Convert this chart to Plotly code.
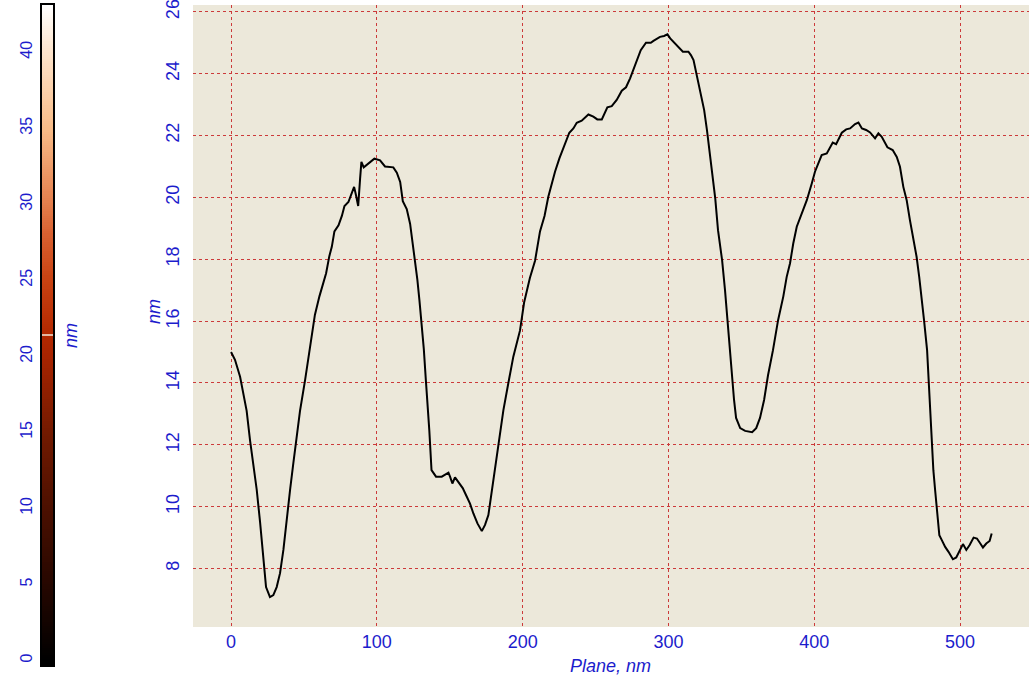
import numpy as np
import plotly.graph_objects as go

# Height profile along the scan line
plane_nm = [0, 2.7, 6.2, 9.1, 10.7, 13.0, 15.8, 17.6, 19.9, 21.7, 24.0, 26.7, 29.0, 31.3, 33.6,
            35.9, 38.2, 40.5, 42.7, 45.0, 47.3, 50.8, 53.5, 55.3, 57.5, 60.6, 63.3, 65.2, 67.4,
            69.1, 70.9, 73.7, 76.0, 77.8, 80.5, 82.1, 84.4, 85.7, 87.2, 88.5, 89.4, 91.0, 94.2,
            98.3, 102.2, 105.6, 111.3, 113.7, 116.0, 117.8, 120.5, 122.8, 124.6, 126.2, 127.8,
            129.2, 130.8, 132.2, 133.6, 134.8, 136.0, 137.5, 140.6, 144.5, 146.8, 149.1, 150.2,
            151.8, 153.6, 155.9, 158.9, 161.7, 163.9, 166.2, 169.0, 172.0, 174.2, 176.5, 178.3,
            180.4, 183.3, 186.8, 190.2, 193.6, 198.2, 201.0, 205.0, 208.5, 211.9, 215.0, 217.6,
            220.0, 222.2, 225.2, 227.9, 230.2, 232.0, 234.8, 237.1, 240.5, 245.1, 248.5, 251.2,
            254.3, 255.8, 258.1, 261.1, 264.5, 268.0, 270.9, 273.7, 276.0, 278.3, 281.0, 284.6,
            287.9, 289.7, 292.0, 294.2, 297.0, 299.3, 301.2, 305.8, 309.9, 313.7, 315.4, 317.2,
            319.1, 320.6, 322.9, 324.5, 326.4, 328.2, 329.8, 332.1, 334.0, 336.8, 338.8, 340.9,
            342.9, 345.0, 346.4, 349.2, 352.6, 357.4, 360.2, 362.8, 365.6, 368.3, 371.7, 375.2,
            378.8, 381.1, 383.4, 385.6, 388.0, 391.4, 394.9, 398.3, 400.5, 402.8, 405.1, 408.6,
            412.7, 415.0, 416.6, 418.9, 421.9, 424.6, 428.0, 430.3, 432.7, 435.6, 438.3, 441.7,
            444.0, 446.3, 450.2, 453.8, 456.6, 458.8, 461.1, 463.4, 465.6, 467.9, 470.2, 472.0,
            473.7, 475.3, 477.4, 478.5, 480.3, 481.7, 482.9, 484.0, 484.7, 485.8, 487.5, 489.8,
            492.1, 495.1, 497.4, 499.7, 502.0, 504.3, 506.6, 509.3, 511.6, 513.9, 515.7, 518.0,
            520.3, 521.7]
height_nm = [15.0, 14.75, 14.2, 13.55, 13.1, 12.15, 11.2, 10.55, 9.5, 8.6, 7.4, 7.08, 7.14, 7.4, 7.85,
             8.6, 9.65, 10.55, 11.4, 12.25, 13.1, 14.1, 14.9, 15.4, 16.2, 16.8, 17.2, 17.55, 18.1,
             18.4, 18.9, 19.1, 19.4, 19.72, 19.85, 20.07, 20.34, 20.07, 19.72, 20.6, 21.15, 20.97, 21.08,
             21.25, 21.2, 21.0, 20.97, 20.8, 20.5, 19.88, 19.62, 19.15, 18.5, 17.97, 17.33,
             16.68, 15.93, 15.1, 14.1, 13.4, 12.45, 11.18, 10.97, 10.97, 11.05, 11.1, 10.97,
             10.75, 10.95, 10.8, 10.6, 10.32, 10.1, 9.78, 9.46, 9.21, 9.41, 9.73, 10.32,
             11.08, 11.94, 13.12, 14.0, 14.85, 15.7, 16.6, 17.4, 17.95, 18.9, 19.4, 20.02,
             20.45, 20.83, 21.26, 21.58, 21.85, 22.09, 22.23, 22.41, 22.48, 22.68, 22.61, 22.52,
             22.52, 22.66, 22.91, 22.95, 23.15, 23.45, 23.56, 23.85, 24.12, 24.45, 24.76, 25.0,
             25.0, 25.06, 25.13, 25.19, 25.22, 25.27, 25.14, 24.92, 24.71, 24.71, 24.6, 24.44,
             24.01, 23.69, 23.25, 22.82, 22.18, 21.53, 20.88, 19.97, 18.94, 17.97, 17.0, 15.71,
             14.58, 13.45, 12.87, 12.54, 12.45, 12.41, 12.54, 12.87, 13.45, 14.25, 15.06, 16.03,
             16.8, 17.43, 17.87, 18.51, 19.05, 19.48, 19.91, 20.45, 20.83, 21.1, 21.37, 21.42,
             21.77, 21.72, 21.88, 22.09, 22.2, 22.23, 22.37, 22.42, 22.23, 22.18, 22.1, 21.91,
             22.07, 21.96, 21.62, 21.53, 21.31, 20.99, 20.34, 19.91, 19.27, 18.73, 18.08, 17.43,
             16.79, 16.03, 15.06, 14.0, 12.5, 11.18, 10.54, 10.05, 9.57, 9.08, 8.92, 8.7,
             8.54, 8.3, 8.36, 8.6, 8.79, 8.6, 8.76, 9.0, 8.97, 8.81, 8.68, 8.81,
             8.89, 9.13]

x_ticks = [0, 100, 200, 300, 400, 500]
y_ticks = [8, 10, 12, 14, 16, 18, 20, 22, 24, 26]
cbar_ticks = [0, 5, 10, 15, 20, 25, 30, 35, 40]

# Colour scale of the height image
cbar_min, cbar_max = -0.3, 43.1
cbar_marker = 21.4
palette_stops = [0, 5, 10, 15, 20, 21.4, 25, 28, 30, 35, 40, 43.1]
palette_colors = ["#000000", "#260700", "#4c1000", "#731a00", "#a82400", "#b32800",
                  "#c84212", "#d86030", "#e47e4c", "#f8bc88", "#fde4cc", "#ffffff"]

W, H = 1029, 679
BLUE = "#1c1ccc"
FONT = "Liberation Sans"

# plot box in pixels
px_left, px_right, px_top, px_bottom = 193, 1029, 5, 627
cb_left, cb_right, cb_top, cb_bottom = 42, 53, 5, 665

colorscale = [[(s - cbar_min) / (cbar_max - cbar_min), c] for s, c in zip(palette_stops, palette_colors)]
colorscale = [[0.0, "#000000"]] + [p for p in colorscale if p[0] > 0]
levels = np.linspace(cbar_min, cbar_max, 300)

fig = go.Figure()

fig.add_trace(go.Scatter(
    x=plane_nm, y=height_nm, mode="lines",
    line=dict(color="#000000", width=2),
    xaxis="x", yaxis="y", showlegend=False, hoverinfo="x+y",
))

fig.add_trace(go.Heatmap(
    x=[0], y=levels, z=[[v] for v in levels],
    colorscale=colorscale, zmin=cbar_min, zmax=cbar_max,
    showscale=False, xaxis="x2", yaxis="y2", hoverinfo="skip",
))

grid = dict(showgrid=True, gridcolor="#cc3a3a", gridwidth=1, griddash="dot",
            zeroline=False, showline=False, ticks="", automargin=False,
            ticklabeloverflow="allow",
            tickfont=dict(family=FONT, size=18, color=BLUE))

fig.update_layout(
    width=W, height=H,
    margin=dict(l=0, r=0, t=0, b=0),
    paper_bgcolor="white",
    plot_bgcolor="#ece8da",
    xaxis=dict(domain=[px_left / W, px_right / W], range=[-26.1, 547.3],
               tickvals=x_ticks, ticklabelstandoff=2, **grid),
    yaxis=dict(domain=[1 - px_bottom / H, 1 - px_top / H], range=[6.11, 26.22],
               tickvals=y_ticks, tickangle=-90, ticklabelstandoff=9, **grid),
    xaxis2=dict(domain=[cb_left / W, cb_right / W], range=[-0.5, 0.5],
                showticklabels=False, showgrid=False, zeroline=False, ticks="",
                showline=True, mirror=True, linecolor="#000000", linewidth=1.5,
                anchor="y2", automargin=False),
    yaxis2=dict(domain=[1 - cb_bottom / H, 1 - cb_top / H], range=[cbar_min, cbar_max],
                tickvals=cbar_ticks, tickangle=-90, showgrid=False, zeroline=False,
                ticks="", showline=True, mirror=True, linecolor="#000000", linewidth=1.5,
                anchor="x2", automargin=False, ticklabelstandoff=2,
                ticklabeloverflow="allow",
                tickfont=dict(family=FONT, size=16, color=BLUE)),
    shapes=[dict(type="line", xref="x2 domain", yref="y2", x0=0, x1=1,
                 y0=cbar_marker, y1=cbar_marker, line=dict(color="#f4e8d8", width=1.5))],
    annotations=[
        dict(text="<i>Plane, nm</i>", xref="paper", yref="paper", x=610 / W, y=1 - 666 / H,
             xanchor="center", yanchor="middle",
             showarrow=False, font=dict(family=FONT, size=18, color=BLUE)),
        dict(text="<i>nm</i>", xref="paper", yref="paper", x=154 / W, y=1 - 312 / H,
             xanchor="center", yanchor="middle",
             showarrow=False, textangle=-90, font=dict(family=FONT, size=18, color=BLUE)),
        dict(text="<i>nm</i>", xref="paper", yref="paper", x=71 / W, y=1 - 336 / H,
             xanchor="center", yanchor="middle",
             showarrow=False, textangle=-90, font=dict(family=FONT, size=18, color=BLUE)),
    ],
)

fig.write_html("out.html")
